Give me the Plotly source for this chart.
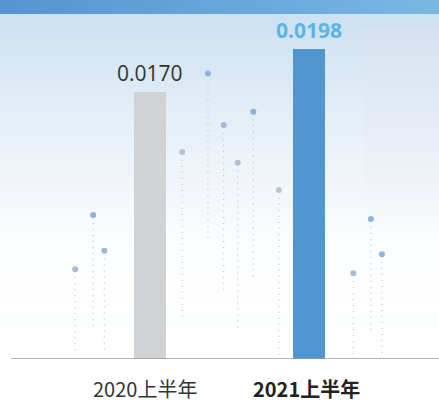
import plotly.graph_objects as go

# ---- data ----
categories = ["2020上半年", "2021上半年"]
values = [0.0170, 0.0198]
value_labels = ["0.0170", "0.0198"]
bar_colors = ["#d1d2d4", "#5097d2"]

# decorative dotted "pins" (x in category units, y in value units)
decor_x = [-0.470, -0.357, -0.287, 0.203, 0.365, 0.464, 0.552, 0.650, 0.811, 1.279, 1.390, 1.459]
decor_top = [0.00572, 0.00918, 0.00691, 0.01320, 0.01820, 0.01492, 0.01252, 0.01577, 0.01078, 0.00547, 0.00893, 0.00668]
decor_bottom = [0.00026, 0.00185, 0.00038, 0.00261, 0.00759, 0.00434, 0.00191, 0.00517, 0.00013, 0.00026, 0.00159, 0.00038]
decor_color = ["#a9bcd6", "#8db3dd", "#9db8da", "#bac3cf", "#8db3dd", "#a3bad8",
               "#b3c0d2", "#8db3dd", "#bcc4cf", "#a9bcd6", "#8db3dd", "#92b5dc"]

X_MIN, X_MAX = -0.943, 1.818
Y_MAX = 0.022895
BAR_W = 0.201

fig = go.Figure()

# background gradient (heatmap layer sits below bars)
n = 24
bg_y = [Y_MAX * i / (n - 1) for i in range(n)]
bg_z = [[i / (n - 1), i / (n - 1)] for i in range(n)]
fig.add_trace(go.Heatmap(
    x=[X_MIN - 0.5, X_MAX + 0.5], y=bg_y, z=bg_z, zsmooth="best", zmin=0, zmax=1,
    colorscale=[[0, "rgb(255,255,255)"], [0.30, "rgb(253,254,255)"],
                [0.45, "rgb(244,247,251)"], [0.64, "rgb(231,240,248)"],
                [0.83, "rgb(215,231,244)"], [1, "rgb(202,223,241)"]],
    showscale=False, hoverinfo="skip"))

# top band (horizontal gradient)
fig.add_trace(go.Heatmap(
    x=[X_MIN, X_MAX], y=[Y_MAX * 0.9805, Y_MAX * 1.02], z=[[0, 1], [0, 1]],
    zsmooth="best", zmin=0, zmax=1,
    colorscale=[[0, "#5494d1"], [1, "#7ab7e2"]], showscale=False, hoverinfo="skip"))

# bars
fig.add_trace(go.Bar(x=[0, 1], y=values, width=BAR_W, marker=dict(color=bar_colors, line=dict(width=0)),
                     showlegend=False, hoverinfo="skip"))

# faint building on the right
fig.add_trace(go.Scatter(
    x=[1.34, X_MAX, X_MAX, 1.34, 1.34], y=[0.0080, 0.0080, 0.0211, 0.0211, 0.0080],
    mode="lines", line=dict(width=0), fill="toself",
    fillgradient=dict(type="vertical", start=0.0080, stop=0.0211,
                      colorscale=[[0, "rgba(235,235,245,0)"], [0.5, "rgba(228,228,240,0.25)"],
                                  [1, "rgba(224,224,238,0.35)"]]),
    hoverinfo="skip", showlegend=False))

# decorative dotted lines + dots
gap = 0.0005
for xv, t, b, c in zip(decor_x, decor_top, decor_bottom, decor_color):
    fig.add_trace(go.Scatter(x=[xv, xv], y=[t - gap, b], mode="lines",
                             line=dict(color="#aeb6c3", width=1, dash="1px,5px"),
                             hoverinfo="skip", showlegend=False))
fig.add_trace(go.Scatter(x=decor_x, y=decor_top, mode="markers",
                         marker=dict(size=6, color=decor_color),
                         hoverinfo="skip", showlegend=False))

# baseline
fig.add_shape(type="line", xref="paper", yref="y", x0=11 / 439, x1=1, y0=0, y1=0,
              line=dict(color="#9a9a9a", width=1.5))

# value labels
fig.add_annotation(x=0, y=values[0], text=value_labels[0], showarrow=False,
                   yanchor="bottom", yshift=3,
                   font=dict(family="Open Sans", size=21, color="#333333"))
fig.add_annotation(x=1, y=values[1], text="<b>" + value_labels[1] + "</b>", showarrow=False,
                   yanchor="bottom", yshift=3,
                   font=dict(family="Open Sans", size=21, color="#5bb4e8"))

# category labels
fig.add_annotation(x=0, y=0, yref="paper", text=categories[0], showarrow=False,
                   yanchor="middle", yshift=-29, xshift=-5,
                   font=dict(family="Noto Sans CJK SC", size=20, color="#333333"))
fig.add_annotation(x=1, y=0, yref="paper", text="<b>" + categories[1] + "</b>", showarrow=False,
                   yanchor="middle", yshift=-29, xshift=-2,
                   font=dict(family="Noto Sans CJK SC", size=20, color="#222222"))

fig.update_layout(
    width=439, height=415,
    margin=dict(l=0, r=0, t=0, b=56),
    paper_bgcolor="white", plot_bgcolor="white",
    xaxis=dict(range=[X_MIN, X_MAX], visible=False, fixedrange=True),
    yaxis=dict(range=[0, Y_MAX], visible=False, fixedrange=True),
    bargap=0,
)

fig.write_html("out.html", config={"displayModeBar": False},
               post_script="document.body.style.margin='0';document.body.style.overflow='hidden';")
